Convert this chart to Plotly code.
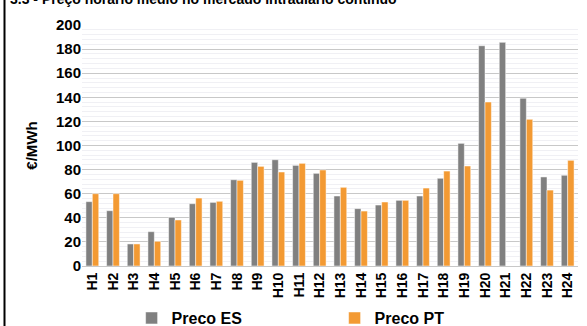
import plotly.graph_objects as go

hours = [f"H{i}" for i in range(1, 25)]
preco_es = [53.4, 45.9, 18.3, 28.5, 40.4, 51.7, 52.8, 71.6, 86.0, 88.2, 83.5, 76.9,
            58.1, 47.6, 50.6, 54.5, 58.1, 72.8, 101.8, 182.8, 185.6, 139.2, 73.9, 75.3]
preco_pt = [60.0, 60.0, 18.3, 20.5, 38.2, 56.4, 53.7, 71.1, 82.7, 78.0, 85.2, 79.7,
            65.3, 45.6, 53.1, 54.5, 64.7, 78.8, 83.0, 136.1, None, 121.7, 63.0, 87.7]
y_ticks = list(range(0, 201, 20))

FONT = "Liberation Sans, Arial, sans-serif"

fig = go.Figure()
fig.add_trace(go.Bar(x=hours, y=preco_es, name="Preco ES", marker_color="#808080",
                     marker_line=dict(color="#ffffff", width=0.5)))
fig.add_trace(go.Bar(x=hours, y=preco_pt, name="Preco PT", marker_color="#F39A33",
                     marker_line=dict(color="#ffffff", width=0.5)))

fig.update_layout(
    width=587, height=326,
    margin=dict(l=82, r=9, t=25, b=60, autoexpand=False),
    paper_bgcolor="white", plot_bgcolor="white",
    barmode="group", bargap=0.38, bargroupgap=0.0,
    font=dict(family=FONT, size=14, color="black"),
    showlegend=True,
    legend=dict(orientation="h", x=0.1, xanchor="left", y=-0.216, yanchor="middle",
                entrywidth=158, entrywidthmode="pixels",
                font=dict(family=FONT, size=16, color="black", weight="bold"),
                itemwidth=30, tracegroupgap=0),
    xaxis=dict(tickangle=-90, tickfont=dict(family=FONT, size=14, weight="bold"),
               showline=True, linecolor="#c8c8c8", linewidth=1, ticks="",
               showgrid=False, automargin=False),
    yaxis=dict(range=[0, 200], tickvals=y_ticks, ticks="",
               tickfont=dict(family=FONT, size=15, weight="bold"),
               showgrid=True, gridcolor="#c8c8c8", gridwidth=1,
               minor=dict(dtick=4, showgrid=True, gridcolor="#f0f0f4", gridwidth=1),
               zeroline=False, automargin=False,
               title=dict(text="€/MWh", font=dict(family=FONT, size=15, weight="bold"),
                          standoff=14)),
)

fig.add_annotation(xref="paper", yref="paper", x=(8 - 82) / 496, y=(266 + 1) / 241,
                   xanchor="left", yanchor="middle", showarrow=False,
                   text="3.3 - Preço horário médio no mercado intradiário contínuo",
                   font=dict(family=FONT, size=14, weight="bold", color="black"))

fig.add_shape(type="line", xref="paper", yref="paper",
              x0=(4.5 - 82) / 496, x1=(4.5 - 82) / 496,
              y0=(266 - 330) / 241, y1=(266 + 5) / 241,
              line=dict(color="black", width=2))

fig.write_html("out.html", config={"displayModeBar": False},
               post_script="document.body.style.margin='0';document.body.style.overflow='hidden';")
